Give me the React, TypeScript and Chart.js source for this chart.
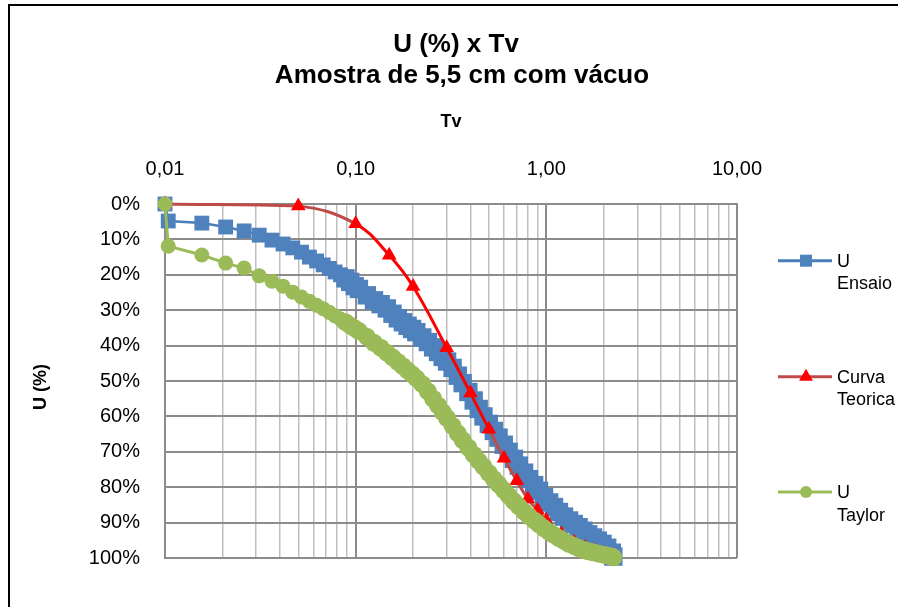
import React, { useEffect, useRef } from 'react';
import { Chart, registerables } from 'chart.js';

Chart.register(...registerables);

const FONT = '"Liberation Sans", Arial, Helvetica, sans-serif';

// ---------- texts ----------
const TITLE_LINES = ['U (%) x Tv', 'Amostra de 5,5 cm com vácuo'];
const X_TITLE = 'Tv';
const Y_TITLE = 'U (%)';
const LEGEND_LABELS = [['U', 'Ensaio'], ['Curva', 'Teorica'], ['U', 'Taylor']];

// ---------- axis ticks ----------
const X_DECADES = [0.01, 0.1, 1, 10];
const X_MINOR_MULTIPLIERS = [1, 2, 3, 4, 5, 6, 7, 8, 9];
const Y_TICKS = [0, 10, 20, 30, 40, 50, 60, 70, 80, 90, 100];

// ---------- data ----------
// Tv of each reading (shared by "U Ensaio" and "U Taylor")
const tvLeituras = [
  0.01, 0.0104, 0.0156, 0.0208, 0.026, 0.0312, 0.0364, 0.0416, 0.0468, 0.052,
  0.0572, 0.0624, 0.0676, 0.0728, 0.078, 0.0832, 0.0884, 0.0936, 0.0988, 0.104,
  0.1144, 0.1248, 0.1352, 0.1456, 0.156, 0.1664, 0.1768, 0.1872, 0.1976, 0.208,
  0.2236, 0.2392, 0.2548, 0.2704, 0.286, 0.3016, 0.3224, 0.3432, 0.364, 0.39,
  0.416, 0.442, 0.468, 0.4992, 0.5304, 0.5616, 0.598, 0.6344, 0.676, 0.7176,
  0.7644, 0.8112, 0.8632, 0.9152, 0.9724, 1.0348, 1.0972, 1.1648, 1.2376, 1.3156,
  1.3936, 1.4768, 1.5652, 1.6588, 1.7576, 1.8616, 1.9708, 2.0852, 2.2048, 2.2464,
];

const uEnsaio = [
  0, 4.8, 5.4, 6.5, 7.6, 8.8, 10.2, 11.3, 12.4, 13.6,
  15.0, 16.1, 17.2, 18.2, 19.2, 20.0, 21.0, 22.0, 23.2, 24.0,
  25.8, 27.2, 28.3, 29.5, 31.0, 32.3, 33.4, 34.4, 35.3, 36.2,
  37.7, 39.0, 40.5, 41.8, 43.2, 44.5, 46.3, 48.5, 50.6, 53.1,
  55.5, 57.9, 60.0, 62.1, 64.1, 66.0, 68.0, 70.0, 72.0, 73.9,
  75.9, 77.7, 79.4, 81.0, 82.8, 84.3, 85.6, 87.0, 88.3, 89.4,
  90.4, 91.3, 92.3, 93.3, 94.2, 95.1, 96.0, 97.1, 98.5, 99.6,
];

const uTaylor = [
  0, 11.9, 14.4, 16.7, 18.1, 20.3, 21.8, 23.2, 24.9, 26.3,
  27.5, 28.6, 29.6, 30.6, 31.6, 32.5, 33.4, 34.3, 35.1, 35.9,
  37.5, 39.2, 40.6, 42.0, 43.3, 44.6, 45.8, 47.0, 48.1, 49.2,
  50.9, 52.9, 55.0, 56.9, 58.8, 60.5, 62.7, 64.8, 66.7, 68.8,
  70.8, 72.6, 74.2, 76.0, 77.7, 79.2, 80.8, 82.4, 84.0, 85.4,
  86.9, 88.2, 89.4, 90.5, 91.6, 92.6, 93.5, 94.4, 95.2, 96.0,
  96.6, 97.2, 97.7, 98.1, 98.4, 98.7, 99.0, 99.3, 99.6, 99.8,
];

const tvTeorica = [0.01, 0.05, 0.1, 0.15, 0.2, 0.3, 0.4, 0.5, 0.6, 0.7, 0.8, 0.9, 1.0, 1.2, 1.4, 1.6, 1.8, 2.0];
const uTeorica = [0, 0.6, 5.6, 14.5, 23.3, 40.6, 53.4, 63.6, 71.8, 78.2, 83.3, 86.5, 89.4, 93.2, 95.6, 97.0, 98.0, 98.7];

// ---------- styles ----------
const BLUE_LINE = '#4a7ebb';
const BLUE_FILL = '#4f81bd';
const RED_DARK = '#be4b48';
const RED_BRIGHT = '#ff0000';
const GREEN = '#9bbb59';
const GRID_MAJOR = '#8c8c8c';
const GRID_MINOR = '#bfbfbf';

const isDecade = (v: number | undefined) => {
  if (v === undefined || v <= 0) return false;
  const l = Math.log10(v);
  return Math.abs(l - Math.round(l)) < 1e-6;
};

const fmtX = (v: number) => v.toFixed(2).replace('.', ',');

const decorPlugin = {
  id: 'decor',
  beforeDraw(chart: any) {
    const { ctx, width, height } = chart;
    ctx.save();
    ctx.fillStyle = '#ffffff';
    ctx.fillRect(0, 0, width, height);
    ctx.fillStyle = '#000000';
    ctx.fillRect(8, 4, width - 8, 2);
    ctx.fillRect(8, 4, 2, height - 4);
    ctx.restore();
  },
  afterDraw(chart: any) {
    const { ctx } = chart;
    ctx.save();
    ctx.fillStyle = '#000000';
    // titles
    ctx.font = `bold 26px ${FONT}`;
    ctx.textAlign = 'center';
    ctx.textBaseline = 'alphabetic';
    ctx.fillText(TITLE_LINES[0], 456, 52);
    ctx.fillText(TITLE_LINES[1], 462, 83);
    // x axis title
    ctx.font = `bold 18px ${FONT}`;
    ctx.fillText(X_TITLE, 451, 127);
    // y axis title
    ctx.save();
    ctx.translate(41.5, 387);
    ctx.rotate(-Math.PI / 2);
    ctx.textBaseline = 'middle';
    ctx.fillText(Y_TITLE, 0, 0);
    ctx.restore();

    // legend
    const rows = [260.7, 376.7, 492];
    const lineColors = [BLUE_LINE, RED_DARK, GREEN];
    rows.forEach((y, i) => {
      ctx.strokeStyle = lineColors[i];
      ctx.lineWidth = 3;
      ctx.beginPath();
      ctx.moveTo(778, y);
      ctx.lineTo(832, y);
      ctx.stroke();
      const cx = 806;
      if (i === 0) {
        ctx.fillStyle = BLUE_FILL;
        ctx.fillRect(cx - 6, y - 6, 12, 12);
      } else if (i === 1) {
        ctx.fillStyle = RED_BRIGHT;
        const r = 8;
        ctx.beginPath();
        ctx.moveTo(cx, y - r);
        ctx.lineTo(cx + r * 0.866, y + r / 2);
        ctx.lineTo(cx - r * 0.866, y + r / 2);
        ctx.closePath();
        ctx.fill();
      } else {
        ctx.fillStyle = GREEN;
        ctx.beginPath();
        ctx.arc(cx, y, 6, 0, Math.PI * 2);
        ctx.fill();
      }
      ctx.fillStyle = '#000000';
      ctx.font = `18px ${FONT}`;
      ctx.textAlign = 'left';
      ctx.textBaseline = 'alphabetic';
      ctx.fillText(LEGEND_LABELS[i][0], 837, y + 6.3);
      ctx.fillText(LEGEND_LABELS[i][1], 837, y + 28.5);
    });
    ctx.restore();
  },
};

export default function App() {
  const ref = useRef<HTMLCanvasElement>(null);

  useEffect(() => {
    const canvas = ref.current;
    if (!canvas) return;

    const ensaio = tvLeituras.map((x, i) => ({ x, y: uEnsaio[i] }));
    const taylor = tvLeituras.map((x, i) => ({ x, y: uTaylor[i] }));
    const teorica = tvTeorica.map((x, i) => ({ x, y: uTeorica[i] }));

    const xTickValues: number[] = [];
    X_DECADES.forEach((d, di) => {
      if (di === X_DECADES.length - 1) {
        xTickValues.push(d);
      } else {
        X_MINOR_MULTIPLIERS.forEach((m) => xTickValues.push(parseFloat((d * m).toPrecision(6))));
      }
    });

    const chart = new Chart(canvas, {
      type: 'scatter',
      data: {
        datasets: [
          {
            label: 'U Ensaio',
            data: ensaio,
            showLine: true,
            borderColor: BLUE_LINE,
            borderWidth: 2.5,
            backgroundColor: BLUE_FILL,
            pointStyle: 'rect',
            pointRadius: (c: any) => (c.dataIndex < 16 ? 10.5 : 13),
            pointBorderWidth: 0,
            pointBorderColor: BLUE_FILL,
            clip: false,
            order: 2,
          } as any,
          {
            label: 'Curva Teorica',
            data: teorica,
            showLine: true,
            borderColor: RED_DARK,
            borderWidth: 3,
            tension: 0.4,
            segment: {
              borderColor: (c: any) => (c.p0DataIndex >= 2 && c.p0DataIndex <= 6 ? RED_BRIGHT : RED_DARK),
            },
            backgroundColor: RED_BRIGHT,
            pointStyle: 'triangle',
            pointRadius: 8.5,
            pointBorderWidth: 0,
            pointBorderColor: RED_BRIGHT,
            clip: false,
            order: 1,
          } as any,
          {
            label: 'U Taylor',
            data: taylor,
            showLine: true,
            borderColor: GREEN,
            borderWidth: 3,
            backgroundColor: GREEN,
            pointStyle: 'circle',
            pointRadius: (c: any) => (c.dataIndex < 16 ? 7.5 : 9),
            pointBorderWidth: 0,
            pointBorderColor: GREEN,
            clip: false,
            order: 0,
          } as any,
        ],
      },
      options: {
        responsive: false,
        animation: false,
        devicePixelRatio: 1,
        events: [],
        layout: { padding: { left: 30, top: 94, right: 161, bottom: 49 } },
        plugins: {
          legend: { display: false },
          title: { display: false },
          tooltip: { enabled: false },
        },
        scales: {
          x: {
            type: 'logarithmic',
            position: 'top',
            min: 0.01,
            max: 10,
            afterFit: (s: any) => {
              s.height = 110;
            },
            afterBuildTicks: (s: any) => {
              s.ticks = xTickValues.map((v) => ({ value: v, major: isDecade(v) }));
            },
            ticks: {
              autoSkip: false,
              maxRotation: 0,
              minRotation: 0,
              padding: 23,
              color: '#000000',
              font: { family: FONT, size: 20 },
              callback: (v: any) => (isDecade(Number(v)) ? fmtX(Number(v)) : ''),
            },
            grid: {
              drawTicks: false,
              color: (c: any) => (isDecade(c.tick?.value) ? GRID_MAJOR : GRID_MINOR),
              lineWidth: (c: any) => (isDecade(c.tick?.value) ? 2 : 1.5),
            },
            border: { display: true, color: GRID_MAJOR, width: 2 },
          },
          y: {
            type: 'linear',
            reverse: true,
            min: 0,
            max: 100,
            afterFit: (s: any) => {
              s.width = 135;
            },
            afterBuildTicks: (s: any) => {
              s.ticks = Y_TICKS.map((v) => ({ value: v }));
            },
            ticks: {
              padding: 25,
              color: '#000000',
              font: { family: FONT, size: 20 },
              callback: (v: any) => `${v}%`,
            },
            grid: {
              drawTicks: false,
              color: GRID_MAJOR,
              lineWidth: 2,
            },
            border: { display: true, color: GRID_MAJOR, width: 2 },
          },
        },
      } as any,
      plugins: [decorPlugin],
    });

    return () => chart.destroy();
  }, []);

  return (
    <div style={{ position: 'fixed', left: 0, top: 0, width: 898, height: 607, background: '#fff' }}>
      <canvas ref={ref} width={898} height={607} style={{ display: 'block', width: 898, height: 607 }} />
    </div>
  );
}
